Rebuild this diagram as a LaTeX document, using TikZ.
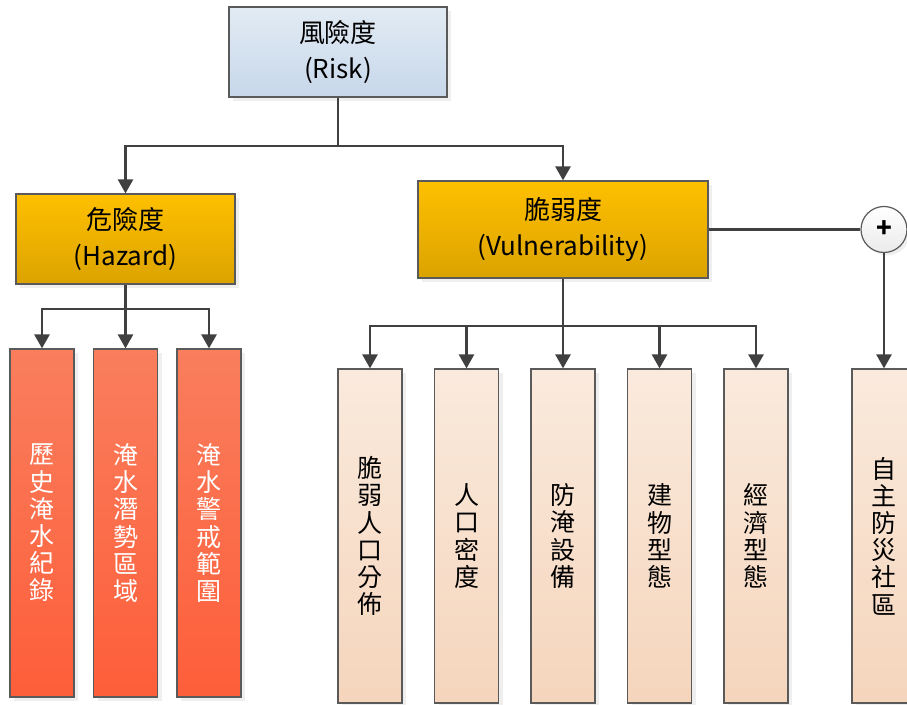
\documentclass[tikz,border=0pt]{standalone}
\usepackage{fontspec}
\setmainfont{Noto Sans CJK TC}
\usepackage{pgf,tikz}
\usetikzlibrary{arrows,arrows.meta,shadows}

\definecolor{riskTop}{HTML}{E2EBF4}
\definecolor{riskBot}{HTML}{C7D7EA}
\definecolor{goldTop}{HTML}{FFC000}
\definecolor{goldBot}{HTML}{DBA300}
\definecolor{redTop}{HTML}{F97E5D}
\definecolor{redBot}{HTML}{FE5E3A}
\definecolor{beigeTop}{HTML}{FAEADD}
\definecolor{beigeBot}{HTML}{F5D5BC}
\definecolor{edgeGray}{HTML}{5A5A5A}
\definecolor{lineGray}{HTML}{404040}

\tikzset{
  box/.style={rectangle, draw=edgeGray, line width=0.6pt, inner sep=0pt, align=center,
    font=\fontsize{13}{18}\selectfont,
    drop shadow={shadow xshift=2pt, shadow yshift=-2pt, fill=black!12}},
  riskbox/.style={box, top color=riskTop, bottom color=riskBot, minimum width=109pt, minimum height=45pt},
  goldbox/.style={box, top color=goldTop, bottom color=goldBot},
  redbar/.style={box, top color=redTop, bottom color=redBot, text=white, minimum width=32pt, minimum height=174pt,
    font=\fontsize{12.5}{13.6}\selectfont},
  beigebar/.style={box, top color=beigeTop, bottom color=beigeBot, minimum width=32pt, minimum height=167pt,
    font=\fontsize{12.5}{13.6}\selectfont},
  plusnode/.style={circle, draw=edgeGray, line width=0.6pt, top color=white, bottom color=black!8,
    minimum size=23pt, inner sep=0pt, font=\fontsize{13}{13}\selectfont\bfseries,
    drop shadow={shadow xshift=1.5pt, shadow yshift=-1.5pt, fill=black!12}},
  link/.style={draw=lineGray, line width=1.3pt},
  arr/.style={link, -{Triangle[width=7.5pt,length=7pt]}}
}

\begin{document}
\begin{tikzpicture}[x=0.5pt,y=-0.5pt]
\clip (0,0) rectangle (907,705);

% top level
\node[riskbox] (risk) at (338,52) {風險度\\(Risk)};
\node[goldbox, minimum width=109.5pt, minimum height=45pt] (haz) at (125.5,239) {危險度\\(Hazard)};
\node[goldbox, minimum width=145pt, minimum height=48.5pt] (vul) at (563,229.5) {脆弱度\\(Vulnerability)};
\node[plusnode] (plus) at (884,229.5) {+};

% hazard factors
\node[redbar] (h1) at (42,523) {歷\\史\\淹\\水\\紀\\錄};
\node[redbar] (h2) at (125.5,523) {淹\\水\\潛\\勢\\區\\域};
\node[redbar] (h3) at (209,523) {淹\\水\\警\\戒\\範\\圍};

% vulnerability factors
\node[beigebar] (v1) at (370,536) {脆\\弱\\人\\口\\分\\佈};
\node[beigebar] (v2) at (466.5,536) {人\\口\\密\\度};
\node[beigebar] (v3) at (563,536) {防\\淹\\設\\備};
\node[beigebar] (v4) at (659.5,536) {建\\物\\型\\態};
\node[beigebar] (v5) at (756,536) {經\\濟\\型\\態};
\node[beigebar] (v6) at (884,536) {自\\主\\防\\災\\社\\區};

% junctions
\coordinate (rj) at (338,146);
\coordinate (hj) at (125.5,309);
\coordinate (vj) at (563,326);

\draw[link] (risk.south) -- (rj);
\draw[arr] (rj) -| (haz.north);
\draw[arr] (rj) -| (vul.north);

\draw[link] (haz.south) -- (hj);
\draw[arr] (hj) -| (h1.north);
\draw[arr] (hj) -- (h2.north);
\draw[arr] (hj) -| (h3.north);

\draw[link] (vul.south) -- (vj);
\draw[arr] (vj) -| (v1.north);
\draw[arr] (vj) -| (v2.north);
\draw[arr] (vj) -- (v3.north);
\draw[arr] (vj) -| (v4.north);
\draw[arr] (vj) -| (v5.north);

\draw[link] (vul.east) -- (plus.west);
\draw[arr] (plus.south) -- (v6.north);
\end{tikzpicture}
\end{document}
